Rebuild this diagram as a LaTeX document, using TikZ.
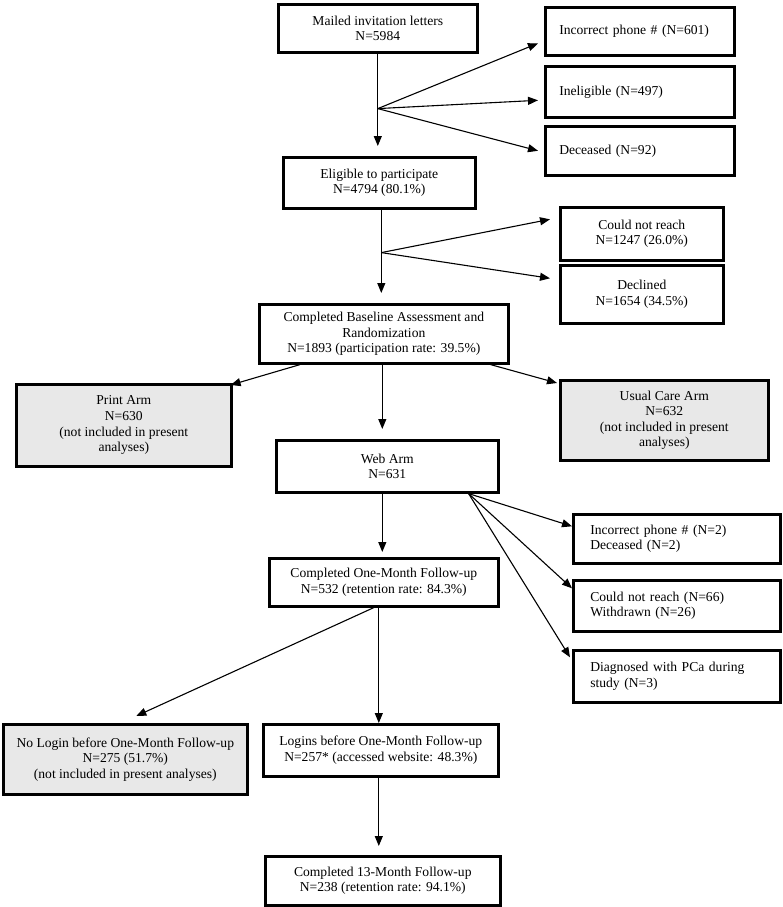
\documentclass[tikz,border=0pt]{standalone}
\usepackage{fontspec}
\setmainfont{Liberation Serif}
\usetikzlibrary{arrows.meta,calc}
\begin{document}
\begin{tikzpicture}[x=1pt,y=-1pt,
  box/.style={draw, line width=2.6pt, inner sep=0pt, align=center,
    font=\fontsize{13.6}{15.6}\selectfont, anchor=north west},
  gbox/.style={box, fill=gray!18},
  lbox/.style={box, align=left},
  arr/.style={line width=1.1pt, -{Triangle[length=10pt,width=8pt]}},
  ln/.style={line width=1.1pt}]
\useasboundingbox (0,0) rectangle (782,907);

% nodes
\node[box, minimum width=199pt, minimum height=48pt] (mailed) at (277,3)
  {Mailed invitation letters\\N=5984};
\node[lbox, inner xsep=14pt, text width=161pt, minimum height=48pt] (inc601) at (544,6)
  {Incorrect phone \# (N=601)};
\node[lbox, inner xsep=14pt, text width=161pt, minimum height=51pt] (inel) at (544,65)
  {Ineligible (N=497)};
\node[lbox, inner xsep=14pt, text width=161pt, minimum height=49pt] (dec) at (544,125)
  {Deceased (N=92)};
\node[box, minimum width=192pt, minimum height=51pt] (elig) at (282,156)
  {Eligible to participate\\N=4794 (80.1\%)};
\node[box, minimum width=163pt, minimum height=53pt] (cnr) at (559,206)
  {Could not reach\\N=1247 (26.0\%)};
\node[box, minimum width=163pt, minimum height=58pt] (decl) at (559,264)
  {Declined\\N=1654 (34.5\%)};
\node[box, minimum width=249pt, minimum height=59pt] (base) at (258,303)
  {Completed Baseline Assessment and\\Randomization\\N=1893 (participation rate: 39.5\%)};
\node[gbox, minimum width=215pt, minimum height=82pt] (print) at (15,383)
  {Print Arm\\N=630\\(not included in present\\analyses)};
\node[gbox, minimum width=208pt, minimum height=80pt] (usual) at (559,379)
  {Usual Care Arm\\N=632\\(not included in present\\analyses)};
\node[box, minimum width=222pt, minimum height=52pt] (web) at (275,439)
  {Web Arm\\N=631};
\node[lbox, inner xsep=17pt, text width=173pt, minimum height=49pt] (inc2) at (572,513)
  {Incorrect phone \# (N=2)\\Deceased (N=2)};
\node[lbox, inner xsep=17pt, text width=173pt, minimum height=51pt] (cnr66) at (572,579)
  {Could not reach (N=66)\\Withdrawn (N=26)};
\node[lbox, inner xsep=17pt, text width=173pt, minimum height=52pt] (diag) at (572,649)
  {Diagnosed with PCa during\\study (N=3)};
\node[box, minimum width=229pt, minimum height=48pt] (one) at (268,557)
  {Completed One-Month Follow-up\\N=532 (retention rate: 84.3\%)};
\node[gbox, minimum width=244pt, minimum height=70pt] (nolog) at (2,723)
  {No Login before One-Month Follow-up\\N=275 (51.7\%)\\(not included in present analyses)};
\node[box, minimum width=235pt, minimum height=52pt] (logins) at (262,723)
  {Logins before One-Month Follow-up\\N=257* (accessed website: 48.3\%)};
\node[box, minimum width=235pt, minimum height=49pt] (m13) at (264,855)
  {Completed 13-Month Follow-up\\N=238 (retention rate: 94.1\%)};

% first fan
\draw[arr, shorten >=10pt] (mailed.south) -- (mailed.south |- elig.north);
\coordinate (f1) at ($(mailed.south)+(0,55)$);
\draw[arr] (f1) -- ([xshift=-6pt,yshift=-12pt]inc601.west);
\draw[arr] (f1) -- ([xshift=-6pt,yshift=-8.5pt]inel.west);
\draw[arr] (f1) -- ([xshift=-6pt]dec.west);

% second fan
\coordinate (e0) at ([xshift=2pt]elig.south);
\draw[arr, shorten >=10pt] (e0) -- (e0 |- base.north);
\coordinate (f2) at ($(e0)+(0,43)$);
\draw[arr] (f2) -- ([xshift=-9pt,yshift=14.5pt]cnr.west);
\draw[arr] (f2) -- ([xshift=-9pt,yshift=16pt]decl.west);

% randomization
\coordinate (b0) at ([xshift=-1.5pt]base.south);
\draw[arr, shorten >=10pt] (b0) -- (b0 |- web.north);
\draw[arr] ([xshift=42pt]base.south west) -- ([xshift=-2pt,yshift=-2pt]print.north east);
\draw[arr] ([xshift=-19pt]base.south east) -- ([xshift=-2pt,yshift=-4pt]usual.north west);

% web arm
\coordinate (w0) at ([xshift=-31pt]web.south east);
\draw[arr] (w0) -- ([yshift=12.5pt]inc2.west);
\draw[arr] (w0) -- ([yshift=17.5pt]cnr66.west);
\draw[arr] (w0) -- ([xshift=-2pt,yshift=19pt]diag.west);
\coordinate (w1) at ([xshift=-1.5pt]one.north);
\draw[arr, shorten >=5pt] (web.south -| w1) -- (w1);

% one-month
\coordinate (o0) at ([xshift=-2pt]logins.north);
\draw[arr] (one.south -| o0) -- (o0);
\draw[arr] ([xshift=-10pt]one.south) -- ([xshift=11pt,yshift=7pt]nolog.north);
\draw[arr, shorten >=9pt] ([xshift=-2pt]logins.south) -- ([xshift=-2pt]logins.south |- m13.north);
\end{tikzpicture}
\end{document}
